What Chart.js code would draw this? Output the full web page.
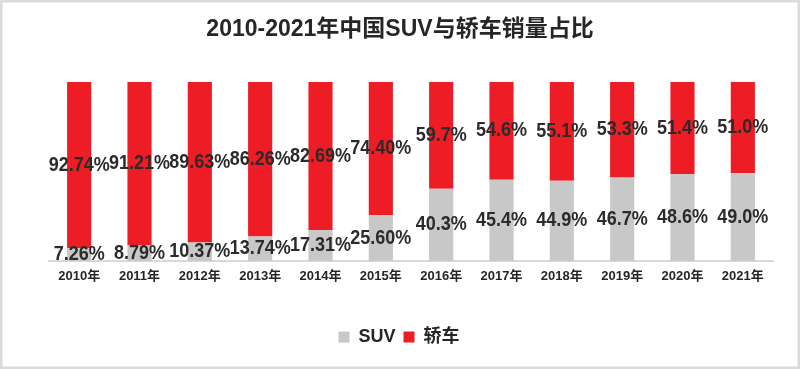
<!DOCTYPE html>
<html>
<head>
<meta charset="utf-8">
<script src="https://cdn.jsdelivr.net/npm/chart.js@4.4.1/dist/chart.umd.min.js"></script>
<style>
  html, body { margin: 0; padding: 0; background: #ffffff; }
  #wrap { width: 800px; height: 369px; position: relative; }
</style>
</head>
<body>
<div id="wrap"><canvas id="c" width="800" height="369"></canvas></div>
<script>
// ---- data ----
const categories = ['2010年','2011年','2012年','2013年','2014年','2015年','2016年','2017年','2018年','2019年','2020年','2021年'];
const suvShare   = ['7.26','8.79','10.37','13.74','17.31','25.60','40.3','45.4','44.9','46.7','48.6','49.0'];
const sedanShare = ['92.74','91.21','89.63','86.26','82.69','74.40','59.7','54.6','55.1','53.3','51.4','51.0'];
const seriesNames = ['SUV', '轿车'];
const chartTitle = '2010-2021年中国SUV与轿车销量占比';

const FONT = '"Liberation Sans", Arial, "Noto Sans CJK SC", sans-serif';

const frameAndLabels = {
  id: 'frameAndLabels',
  beforeDraw(chart) {
    const ctx = chart.ctx;
    ctx.save();
    ctx.fillStyle = '#ffffff';
    ctx.fillRect(0, 0, chart.width, chart.height);
    ctx.restore();
  },
  afterLayout(chart) {
    // centre legend and title on the canvas rather than on the plot area
    const lg = chart.legend;
    if (lg) { lg.left -= 12; lg.right -= 12; }
    const tb = chart.titleBlock;
    if (tb) { tb.left -= 11; tb.right -= 11; }
  },
  afterDatasetsDraw(chart) {
    const ctx = chart.ctx;
    chart.data.datasets.forEach((ds, di) => {
      const meta = chart.getDatasetMeta(di);
      meta.data.forEach((bar, i) => {
        const p = bar.getProps(['x', 'y', 'base'], true);
        const cy = (p.y + p.base) / 2;
        ctx.save();
        ctx.font = 'bold 20px ' + FONT;
        ctx.fillStyle = '#2b2b2b';
        ctx.textAlign = 'center';
        ctx.textBaseline = 'middle';
        ctx.translate(p.x, cy);
        ctx.scale(0.9, 1);
        ctx.fillText(ds.data[i] + '%', 0, 0);
        ctx.restore();
      });
    });
  },
  afterDraw(chart) {
    const ctx = chart.ctx;
    ctx.save();
    ctx.strokeStyle = '#dadada';
    ctx.lineWidth = 2.5;
    ctx.strokeRect(1.25, 1.25, chart.width - 2.5, chart.height - 2.5);
    ctx.restore();
  }
};

new Chart(document.getElementById('c'), {
  type: 'bar',
  data: {
    labels: categories,
    datasets: [
      { label: seriesNames[0], data: suvShare, backgroundColor: '#c8c8c8', borderWidth: 0 },
      { label: seriesNames[1], data: sedanShare, backgroundColor: '#ee1c25', borderWidth: 0 }
    ]
  },
  options: {
    responsive: false,
    animation: false,
    devicePixelRatio: 1,
    categoryPercentage: 1,
    barPercentage: 0.4,
    layout: { padding: { left: 49, right: 27, top: 0, bottom: 13 } },
    plugins: {
      tooltip: { enabled: false },
      title: {
        display: true,
        text: chartTitle,
        color: '#262626',
        font: { family: FONT, size: 23, weight: 'bold', lineHeight: 1.2 },
        padding: { top: 16, bottom: 38.4 }
      },
      legend: {
        position: 'bottom',
        labels: {
          boxWidth: 11,
          boxHeight: 11,
          padding: 8,
          color: '#262626',
          font: { family: FONT, size: 18, weight: 'bold' }
        }
      }
    },
    scales: {
      x: {
        stacked: true,
        grid: { display: false, drawTicks: false },
        border: { display: true, color: '#d9d9d9', width: 2 },
        ticks: {
          color: '#262626',
          padding: 8,
          maxRotation: 0,
          autoSkip: false,
          font: { family: FONT, size: 13, weight: 'bold' }
        },
        afterFit(scale) { scale.height = 59; }
      },
      y: {
        stacked: true,
        display: false,
        min: 0,
        max: 100
      }
    }
  },
  plugins: [frameAndLabels]
});
</script>
</body>
</html>
